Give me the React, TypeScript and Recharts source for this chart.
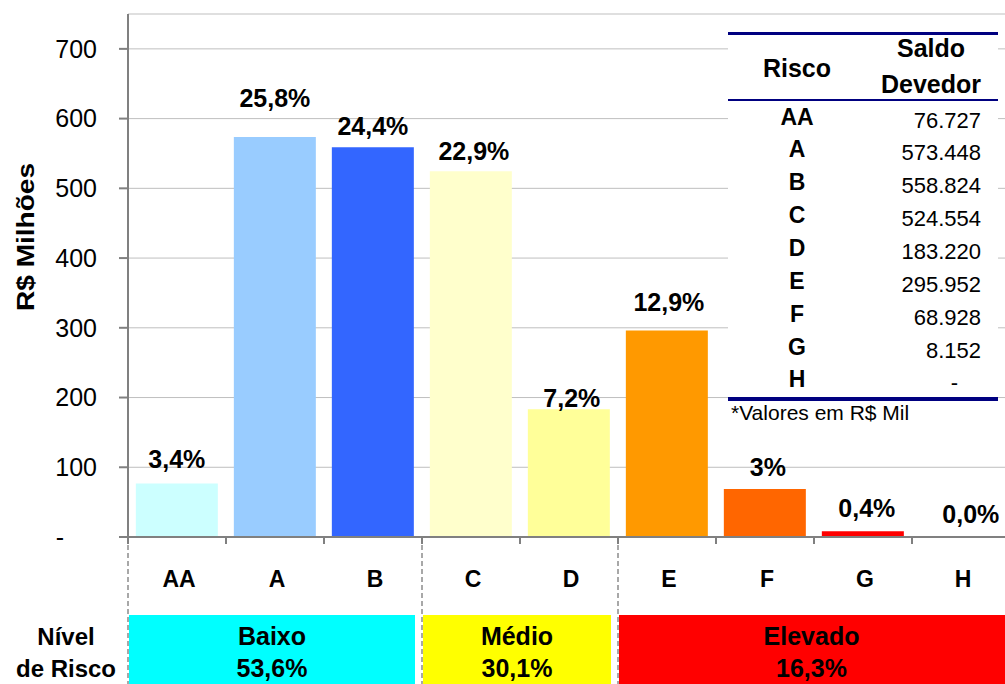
import React from 'react';
import { BarChart, Bar, XAxis, YAxis, CartesianGrid, Cell, LabelList } from 'recharts';

const categories = ['AA', 'A', 'B', 'C', 'D', 'E', 'F', 'G', 'H'];
const saldoMil = [76727, 573448, 558824, 524554, 183220, 295952, 68928, 8152, 0];
const saldoLabels = ['76.727', '573.448', '558.824', '524.554', '183.220', '295.952', '68.928', '8.152', '-'];
const shareLabels = ['3,4%', '25,8%', '24,4%', '22,9%', '7,2%', '12,9%', '3%', '0,4%', '0,0%'];
const barColors = ['#CCFFFF', '#99CCFF', '#3366FF', '#FFFFCC', '#FFFF99', '#FF9900', '#FF6600', '#FF0000', 'transparent'];
const yTicks = [0, 100, 200, 300, 400, 500, 600, 700];

const groupNames = ['Baixo', 'Médio', 'Elevado'];
const groupShares = ['53,6%', '30,1%', '16,3%'];
const groupStarts = [0, 3, 5];
const groupEnds = [3, 5, 9];
const groupColors = ['#00FFFF', '#FFFF00', '#FF0000'];

// label placement tweaks (pixels), not data
const labelRise = [15, 30, 12, 11, 2, 20, 13, 14, 13];
const labelDx = [0, 0, 0, 3, 3, 2, 3, 4, 10];

const data = categories.map((c, i) => ({ cat: c, valor: saldoMil[i] / 1000 }));

const FONT = '"Liberation Sans", Arial, Helvetica, sans-serif';
const CHART_W = 1010;
const CHART_H = 684;
const YAXIS_W = 128;
const XAXIS_H = 147;
const AXIS_Y = CHART_H - XAXIS_H;
const PLOT_W = CHART_W - YAXIS_W;

const XTick = (props: any) => {
  const { x, index, visibleTicksCount, payload } = props;
  const n = visibleTicksCount || categories.length;
  const band = PLOT_W / n;
  const left = x - band / 2;
  const gi = groupStarts.indexOf(index);
  let groupEl: any = null;
  if (gi >= 0) {
    const span = groupEnds[gi] - groupStarts[gi];
    const bx = left + 1;
    const bw = gi === groupNames.length - 1 ? span * band + 10 : span * band - 8;
    const cx = gi === groupNames.length - 1 ? left + (1005 - left) / 2 : bx + bw / 2;
    groupEl = (
      <g>
        <rect x={bx} y={615} width={bw} height={CHART_H - 615} fill={groupColors[gi]} />
        <line x1={left} x2={left} y1={AXIS_Y} y2={CHART_H} stroke="#8C8C8C" strokeWidth={1.5} strokeDasharray="5 3" />
        <text x={cx} y={645} textAnchor="middle" fontFamily={FONT} fontWeight="bold" fontSize={25} fill="#000">
          {groupNames[gi]}
        </text>
        <text x={cx} y={677} textAnchor="middle" fontFamily={FONT} fontWeight="bold" fontSize={25} fill="#000">
          {groupShares[gi]}
        </text>
      </g>
    );
  }
  return (
    <g>
      {groupEl}
      <line x1={left} x2={left} y1={AXIS_Y} y2={AXIS_Y + 7} stroke="#808080" strokeWidth={2} />
      {index === n - 1 ? (
        <line x1={left + band} x2={left + band} y1={AXIS_Y} y2={AXIS_Y + 7} stroke="#808080" strokeWidth={2} />
      ) : null}
      <text x={x + 2} y={587} textAnchor="middle" fontFamily={FONT} fontWeight="bold" fontSize={23} fill="#000">
        {payload.value}
      </text>
    </g>
  );
};

const YTick = (props: any) => {
  const { y, payload } = props;
  if (payload.value === 0) {
    return (
      <text x={64} y={y} dy="0.355em" textAnchor="end" fontFamily={FONT} fontSize={25} fill="#000">
        -
      </text>
    );
  }
  return (
    <text x={97} y={y} dy="0.355em" textAnchor="end" fontFamily={FONT} fontSize={25} fill="#000">
      {payload.value}
    </text>
  );
};

const BarLabel = (props: any) => {
  const { x, y, width, index } = props;
  return (
    <text
      x={x + width / 2 + labelDx[index]}
      y={y - labelRise[index]}
      textAnchor="middle"
      fontFamily={FONT}
      fontWeight="bold"
      fontSize={25}
      fill="#000"
    >
      {shareLabels[index]}
    </text>
  );
};

const rowBaselines = [125, 157, 190, 223, 256, 289, 322, 355, 387];

export default function App() {
  return (
    <div style={{ position: 'absolute', left: 0, top: 0, width: 1005, height: 684, overflow: 'hidden', background: '#fff' }}>
      <BarChart
        width={CHART_W}
        height={CHART_H}
        data={data}
        margin={{ top: 14, right: 0, left: 0, bottom: 0 }}
        barCategoryGap="8%"
      >
        <CartesianGrid vertical={false} stroke="#BFBFBF" strokeWidth={1} />
        <YAxis
          width={YAXIS_W}
          domain={[0, 750]}
          ticks={yTicks}
          interval={0}
          tick={<YTick />}
          tickSize={9}
          axisLine={{ stroke: '#808080', strokeWidth: 2 }}
          tickLine={{ stroke: '#808080', strokeWidth: 2 }}
          allowDataOverflow
        />
        <XAxis
          dataKey="cat"
          height={XAXIS_H}
          interval={0}
          tick={<XTick />}
          tickLine={false}
          axisLine={{ stroke: '#808080', strokeWidth: 2 }}
        />
        <Bar dataKey="valor" isAnimationActive={false} minPointSize={1}>
          {data.map((d, i) => (
            <Cell key={d.cat} fill={barColors[i]} />
          ))}
          <LabelList dataKey="valor" content={<BarLabel />} />
        </Bar>
      </BarChart>
      <svg width={1005} height={684} style={{ position: 'absolute', left: 0, top: 0, pointerEvents: 'none' }}>
        <text
          transform="translate(34,237) rotate(-90) scale(1.22,1)"
          textAnchor="middle"
          fontFamily={FONT}
          fontWeight="bold"
          fontSize={23}
          fill="#000"
        >
          R$ Milhões
        </text>
        <text x={66} y={645} textAnchor="middle" fontFamily={FONT} fontWeight="bold" fontSize={24} fill="#000">
          Nível
        </text>
        <text x={66} y={677} textAnchor="middle" fontFamily={FONT} fontWeight="bold" fontSize={24} fill="#000">
          de Risco
        </text>
        <rect x={728} y={32} width={270} height={397} fill="#fff" />
        <rect x={728} y={32} width={270} height={3} fill="#000080" />
        <rect x={728} y={99} width={270} height={2} fill="#000080" />
        <rect x={728} y={397} width={270} height={4} fill="#000080" />
        <text x={797} y={77} textAnchor="middle" fontFamily={FONT} fontWeight="bold" fontSize={25} fill="#000">
          Risco
        </text>
        <text x={931} y={57} textAnchor="middle" fontFamily={FONT} fontWeight="bold" fontSize={25} fill="#000">
          Saldo
        </text>
        <text x={931} y={93} textAnchor="middle" fontFamily={FONT} fontWeight="bold" fontSize={25} fill="#000">
          Devedor
        </text>
        {categories.map((c, i) => (
          <g key={c}>
            <text x={797} y={rowBaselines[i]} textAnchor="middle" fontFamily={FONT} fontWeight="bold" fontSize={23} fill="#000">
              {c}
            </text>
            <text
              x={saldoLabels[i] === '-' ? 958 : 981}
              y={rowBaselines[i] + 3}
              textAnchor="end"
              fontFamily={FONT}
              fontSize={22}
              fill="#000"
            >
              {saldoLabels[i]}
            </text>
          </g>
        ))}
        <text x={731} y={420} fontFamily={FONT} fontSize={21} fill="#000">
          *Valores em R$ Mil
        </text>
      </svg>
    </div>
  );
}
